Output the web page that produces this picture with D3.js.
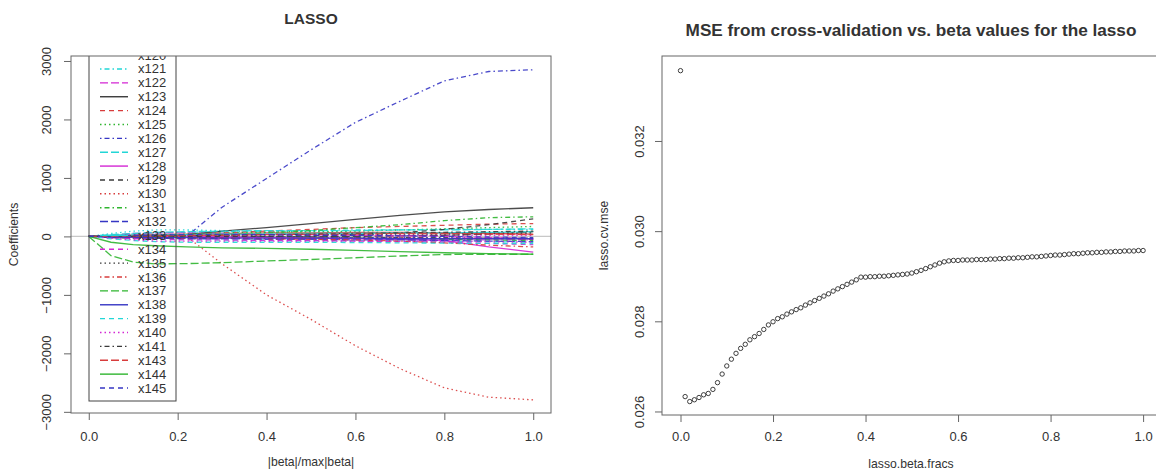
<!DOCTYPE html>
<html><head><meta charset="utf-8">
<script src="https://cdn.jsdelivr.net/npm/d3@7"></script>
<style>
body{margin:0;background:#fff;}
text{font-family:"Liberation Sans",Arial,sans-serif;fill:#333;}
</style></head>
<body>
<svg id="chart" width="1156" height="475"></svg>
<script>
// ---------- DATA: left panel (LASSO coefficient paths) ----------
const pathFracs = [0, 0.05, 0.1, 0.15, 0.22, 0.3, 0.4, 0.5, 0.6, 0.7, 0.8, 0.9, 1.0];
const coef_x109 = [0,-10,-30,-40,-50,-60,-60,-70,-70,-80,-80,-90,-100];
const coef_x110 = [0,10,10,20,20,20,20,20,20,20,20,20,20];
const coef_x111 = [0,0,0,0,0,-10,-10,-10,-20,-20,-20,-30,-30];
const coef_x112 = [0,0,-10,-10,-10,-20,-20,-30,-30,-30,-40,-40,-50];
const coef_x115 = [0,50,90,110,110,100,90,80,70,60,60,60,50];
const coef_x116 = [0,0,-10,-10,-20,-20,-30,-30,-40,-40,-50,-60,-60];
const coef_x117 = [0,-20,-30,-30,-30,-20,-10,-10,0,10,20,40,80];
const coef_x118 = [0,10,20,30,40,50,60,60,70,70,60,50,40];
const coef_x119 = [0,5,10,10,10,0,-10,-20,-30,-40,-50,-60,-70];
const coef_x120 = [0,-20,-20,-20,-10,-10,-10,-20,-20,-20,-30,-30,-30];
const coef_x121 = [0,20,40,60,70,80,90,100,110,110,120,120,120];
const coef_x122 = [0,20,50,60,60,50,40,30,20,10,0,-20,-40];
const coef_x123 = [0,0,0,10,30,90,150,220,290,360,420,460,490];
const coef_x124 = [0,0,0,10,30,60,90,120,150,170,190,210,220];
const coef_x125 = [0,0,10,20,40,60,70,80,90,110,130,150,170];
const coef_x126 = [0,0,0,0,0,500,990,1480,1950,2310,2660,2820,2850];
const coef_x127 = [0,30,50,70,80,90,100,100,100,110,110,120,130];
const coef_x128 = [0,0,0,0,0,-10,-20,-30,-40,-50,-70,-180,-270];
const coef_x129 = [0,0,0,0,0,0,0,10,30,60,120,200,300];
const coef_x130 = [0,0,0,0,0,-470,-1000,-1420,-1870,-2260,-2590,-2750,-2795];
const coef_x131 = [0,0,0,0,10,30,60,100,150,200,270,320,335];
const coef_x132 = [0,-10,-20,-30,-40,-40,-50,-50,-60,-60,-70,-80,-90];
const coef_x133 = [0,0,10,20,30,40,40,50,50,60,60,70,80];
const coef_x134 = [0,-20,-40,-50,-60,-60,-70,-70,-80,-90,-100,-120,-140];
const coef_x135 = [0,10,20,20,20,20,30,30,30,40,40,50,60];
const coef_x136 = [0,0,-10,-20,-30,-30,-40,-50,-60,-80,-110,-150,-180];
const coef_x137 = [0,-330,-440,-470,-465,-450,-420,-395,-365,-335,-310,-305,-305];
const coef_x138 = [0,-10,-10,-20,-20,-30,-30,-30,-30,-40,-40,-40,-40];
const coef_x139 = [0,-40,-70,-90,-100,-100,-100,-100,-105,-110,-115,-120,-125];
const coef_x140 = [0,-30,-60,-80,-80,-80,-80,-80,-80,-80,-80,-90,-100];
const coef_x141 = [0,0,0,10,10,20,30,40,50,60,70,80,90];
const coef_x143 = [0,0,10,10,20,20,30,40,40,50,50,40,30];
const coef_x144 = [0,-100,-140,-160,-180,-195,-205,-220,-240,-260,-280,-295,-305];
const coef_x145 = [0,10,20,20,30,30,30,20,20,10,0,-10,-20];

const seriesNames = ["x109","x110","x111","x112","x115","x116","x117","x118","x119","x120",
  "x121","x122","x123","x124","x125","x126","x127","x128","x129","x130","x131","x132","x133",
  "x134","x135","x136","x137","x138","x139","x140","x141","x143","x144","x145"];
const seriesValues = [coef_x109,coef_x110,coef_x111,coef_x112,coef_x115,coef_x116,coef_x117,
  coef_x118,coef_x119,coef_x120,coef_x121,coef_x122,coef_x123,coef_x124,coef_x125,coef_x126,
  coef_x127,coef_x128,coef_x129,coef_x130,coef_x131,coef_x132,coef_x133,coef_x134,coef_x135,
  coef_x136,coef_x137,coef_x138,coef_x139,coef_x140,coef_x141,coef_x143,coef_x144,coef_x145];

const legendLabels = ["x108","x109","x110","x111","x112","x113","x114","x115","x116","x117",
  "x118","x119","x120","x121","x122","x123","x124","x125","x126","x127","x128","x129","x130",
  "x131","x132","x133","x134","x135","x136","x137","x138","x139","x140","x141","x143","x144","x145"];
const legendStartIndex = 15; // palette/lty cycle offset of first legend label

const leftYTicks = [-3000,-2000,-1000,0,1000,2000,3000];
const fracTicks = [0,0.2,0.4,0.6,0.8,1.0];

// ---------- DATA: right panel (CV MSE) ----------
const betaFracs = [0,0.01,0.02,0.03,0.04,0.05,0.06,0.07,0.08,0.09,0.1,0.11,0.12,0.13,0.14,0.15,0.16,0.17,0.18,0.19,
 0.2,0.21,0.22,0.23,0.24,0.25,0.26,0.27,0.28,0.29,0.3,0.31,0.32,0.33,0.34,0.35,0.36,0.37,0.38,0.39,
 0.4,0.41,0.42,0.43,0.44,0.45,0.46,0.47,0.48,0.49,0.5,0.51,0.52,0.53,0.54,0.55,0.56,0.57,0.58,0.59,
 0.6,0.61,0.62,0.63,0.64,0.65,0.66,0.67,0.68,0.69,0.7,0.71,0.72,0.73,0.74,0.75,0.76,0.77,0.78,0.79,
 0.8,0.81,0.82,0.83,0.84,0.85,0.86,0.87,0.88,0.89,0.9,0.91,0.92,0.93,0.94,0.95,0.96,0.97,0.98,0.99,1.0];
const cvMse = [0.03356,0.02633,0.02622,0.02626,0.02631,0.02637,0.02640,0.02649,0.02664,0.02683,
 0.02701,0.02716,0.02729,0.02740,0.02749,0.02759,0.02766,0.02773,0.02782,0.02792,
 0.02799,0.02806,0.02810,0.02816,0.02821,0.02826,0.02830,0.02836,0.02841,0.02846,
 0.02851,0.02856,0.02861,0.02867,0.02872,0.02877,0.02882,0.02887,0.02892,0.02898,
 0.02898,0.02899,0.02899,0.02900,0.02900,0.02901,0.02902,0.02903,0.02904,0.02905,
 0.02907,0.02910,0.02913,0.02917,0.02921,0.02925,0.02929,0.02932,0.02934,0.02935,
 0.02935,0.02936,0.02936,0.02936,0.02937,0.02937,0.02937,0.02938,0.02938,0.02939,
 0.02939,0.02940,0.02940,0.02941,0.02941,0.02942,0.02943,0.02943,0.02944,0.02945,
 0.02946,0.02947,0.02947,0.02948,0.02949,0.02950,0.02950,0.02951,0.02952,0.02952,
 0.02953,0.02953,0.02954,0.02954,0.02955,0.02955,0.02956,0.02956,0.02956,0.02957,0.02957];
const rightYTicks = [0.026,0.028,0.030,0.032];

// ---------- STYLE ----------
const palette = ["#3a3a3a","#d83c3c","#2fb52f","#3636c4","#22d6d6","#d426d4"];
const ltys = [null,"5,4","1.5,3","1.5,3,5,3","8,3"];

const svg = d3.select("#chart");
const L = {x0:71, x1:551, y0:56, y1:413};
const R = {x0:662, x1:1161.6, y0:56, y1:415};

// ---------- LEFT PANEL ----------
const xL = d3.scaleLinear().domain([-0.04,1.04]).range([L.x0,L.x1]);
const yL = d3.scaleLinear().domain([-3020,3085]).range([L.y1,L.y0]);

svg.append("defs").append("clipPath").attr("id","clipL")
  .append("rect").attr("x",L.x0).attr("y",L.y0).attr("width",L.x1-L.x0).attr("height",L.y1-L.y0);

const gL = svg.append("g");
const plotL = gL.append("g").attr("clip-path","url(#clipL)");

// zero reference line
plotL.append("line").attr("x1",L.x0).attr("x2",L.x1).attr("y1",yL(0)).attr("y2",yL(0))
  .attr("stroke","#c8c8c8").attr("stroke-width",1.2);

function styleIndex(name){ return legendLabels.indexOf(name) + legendStartIndex; }
const lineGen = d3.line().x((d,i)=>xL(pathFracs[i])).y(d=>yL(d));
seriesNames.forEach((name,si)=>{
  const k = styleIndex(name);
  plotL.append("path").datum(seriesValues[si]).attr("d",lineGen)
    .attr("fill","none").attr("stroke",palette[k%6]).attr("stroke-width",1.3)
    .attr("stroke-dasharray",ltys[k%5]).attr("opacity",0.9);
});

// legend (clipped to plot region; entries fully above the region are not drawn)
const legStep = 13.87, legBottomY = 388;
const legG = plotL.append("g");
const nLeg = legendLabels.length;
legG.append("rect").attr("x",89).attr("y",legBottomY - (nLeg-1)*legStep - 14)
  .attr("width",87).attr("height",(nLeg-1)*legStep + 27)
  .attr("fill","none").attr("stroke","#444").attr("stroke-width",1);
legendLabels.forEach((lab,p)=>{
  const k = p + legendStartIndex;
  const y = legBottomY - (nLeg-1-p)*legStep;
  if (y < L.y0 - 8) return;
  legG.append("line").attr("x1",100).attr("x2",128).attr("y1",y).attr("y2",y)
    .attr("stroke",palette[k%6]).attr("stroke-width",1.4).attr("stroke-dasharray",ltys[k%5]);
  legG.append("text").attr("x",138).attr("y",y).attr("dominant-baseline","central")
    .attr("font-size",13).text(lab);
});

// frame
gL.append("rect").attr("x",L.x0).attr("y",L.y0).attr("width",L.x1-L.x0).attr("height",L.y1-L.y0)
  .attr("fill","none").attr("stroke","#666").attr("stroke-width",1);

// axes
const axL = gL.append("g").attr("transform",`translate(${L.x0},0)`)
  .call(d3.axisLeft(yL).tickValues(leftYTicks).tickFormat(d3.format("d")).tickSize(7).tickSizeOuter(0));
axL.select(".domain").remove();
axL.selectAll(".tick line").attr("stroke","#666");
axL.selectAll(".tick text").attr("x",null).attr("dy",null)
  .attr("transform","translate(-25,0) rotate(-90)").attr("text-anchor","middle")
  .attr("dominant-baseline","central").attr("font-size",13).attr("fill","#333");

const axLB = gL.append("g").attr("transform",`translate(0,${L.y1})`)
  .call(d3.axisBottom(xL).tickValues(fracTicks).tickFormat(d3.format(".1f")).tickSize(7).tickPadding(12).tickSizeOuter(0));
axLB.select(".domain").remove();
axLB.selectAll(".tick line").attr("stroke","#666");
axLB.selectAll(".tick text").attr("font-size",13).attr("fill","#333");

gL.append("text").attr("x",(L.x0+L.x1)/2).attr("y",18).attr("text-anchor","middle")
  .attr("dominant-baseline","central").attr("font-weight","bold").attr("font-size",15.5).text("LASSO");
gL.append("text").attr("x",(L.x0+L.x1)/2).attr("y",462).attr("text-anchor","middle")
  .attr("dominant-baseline","central").attr("font-size",12.2).text("|beta|/max|beta|");
gL.append("text").attr("transform",`translate(14,${(L.y0+L.y1)/2}) rotate(-90)`).attr("text-anchor","middle")
  .attr("dominant-baseline","central").attr("font-size",12.2).text("Coefficients");

// ---------- RIGHT PANEL ----------
const xR = d3.scaleLinear().domain([-0.04,1.04]).range([R.x0,R.x1]);
const yR = d3.scaleLinear().domain([0.025922,0.033885]).range([R.y1,R.y0]);
const gR = svg.append("g");

gR.append("g").selectAll("circle").data(cvMse).join("circle")
  .attr("cx",(d,i)=>xR(betaFracs[i])).attr("cy",d=>yR(d)).attr("r",2.2)
  .attr("fill","none").attr("stroke","#2a2a2a").attr("stroke-width",0.9);

gR.append("rect").attr("x",R.x0).attr("y",R.y0).attr("width",R.x1-R.x0).attr("height",R.y1-R.y0)
  .attr("fill","none").attr("stroke","#666").attr("stroke-width",1);

const axR = gR.append("g").attr("transform",`translate(${R.x0},0)`)
  .call(d3.axisLeft(yR).tickValues(rightYTicks).tickFormat(d3.format(".3f")).tickSize(7).tickSizeOuter(0));
axR.select(".domain").remove();
axR.selectAll(".tick line").attr("stroke","#666");
axR.selectAll(".tick text").attr("x",null).attr("dy",null)
  .attr("transform","translate(-23,0) rotate(-90)").attr("text-anchor","middle")
  .attr("dominant-baseline","central").attr("font-size",13).attr("fill","#333");

const axRB = gR.append("g").attr("transform",`translate(0,${R.y1})`)
  .call(d3.axisBottom(xR).tickValues(fracTicks).tickFormat(d3.format(".1f")).tickSize(7).tickPadding(10).tickSizeOuter(0));
axRB.select(".domain").remove();
axRB.selectAll(".tick line").attr("stroke","#666");
axRB.selectAll(".tick text").attr("font-size",13).attr("fill","#333");

gR.append("text").attr("x",911).attr("y",30).attr("text-anchor","middle")
  .attr("dominant-baseline","central").attr("font-weight","bold").attr("font-size",17.2)
  .text("MSE from cross-validation vs. beta values for the lasso");
gR.append("text").attr("x",911).attr("y",464).attr("text-anchor","middle")
  .attr("dominant-baseline","central").attr("font-size",12.2).text("lasso.beta.fracs");
gR.append("text").attr("transform",`translate(604,${(R.y0+R.y1)/2}) rotate(-90)`).attr("text-anchor","middle")
  .attr("dominant-baseline","central").attr("font-size",12.2).text("lasso.cv.mse");
</script>
</body></html>
